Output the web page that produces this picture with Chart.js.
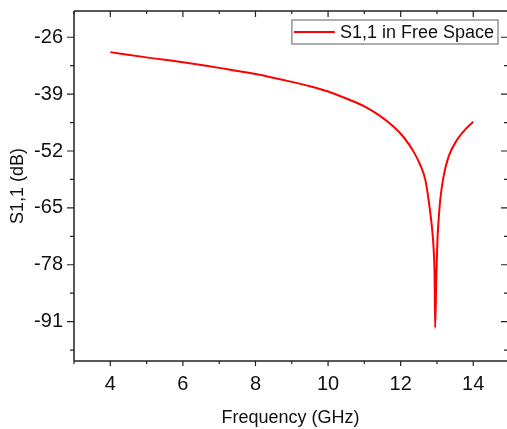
<!DOCTYPE html>
<html>
<head>
<meta charset="utf-8">
<script src="https://cdn.jsdelivr.net/npm/chart.js@4.4.1/dist/chart.umd.min.js"></script>
<style>
  html, body { margin: 0; padding: 0; background: #ffffff; }
  #wrap { width: 507px; height: 429px; position: relative; }
</style>
</head>
<body>
<div id="wrap"><canvas id="c" width="507" height="429"></canvas></div>
<script>
// ---- data ----
const freqGHz = [4.0, 5.0, 6.0, 7.0, 8.0, 9.0, 9.5, 10.0, 10.5, 11.0, 11.4, 11.8, 12.08, 12.36, 12.54, 12.68, 12.77, 12.86, 12.91, 12.935, 12.95, 12.985, 13.015, 13.04, 13.09, 13.18, 13.32, 13.55, 13.8, 14.0];
const s11dB   = [-29.4, -30.6, -31.7, -33.0, -34.4, -36.2, -37.2, -38.4, -40.0, -41.8, -43.8, -46.4, -48.8, -52.2, -55.2, -58.6, -63.2, -69.3, -74.6, -80.5, -92.4, -80.0, -72.0, -68.5, -63.2, -57.9, -53.3, -49.5, -46.9, -45.3];
const seriesLabel = 'S1,1 in Free Space';
const xMajorTicks = [4, 6, 8, 10, 12, 14];
const xMinorTicks = [3, 5, 7, 9, 11, 13];
const yMajorTicks = [-91, -78, -65, -52, -39, -26];
const yMinorTicks = [-97.5, -84.5, -71.5, -58.5, -45.5, -32.5];
const xTitle = 'Frequency (GHz)';
const yTitle = 'S1,1 (dB)';

const FONT = "'Liberation Sans', Arial, sans-serif";
const AXIS_COLOR = '#222222';

const framePlugin = {
  id: 'originFrame',
  afterDraw(chart) {
    const { ctx, chartArea: { left, right, top, bottom }, scales: { x, y } } = chart;
    ctx.save();
    ctx.strokeStyle = AXIS_COLOR;
    ctx.lineWidth = 1.5;
    ctx.beginPath();
    ctx.moveTo(left, top); ctx.lineTo(right, top);
    ctx.moveTo(left, top); ctx.lineTo(left, bottom);
    ctx.moveTo(left, bottom); ctx.lineTo(right, bottom);
    ctx.stroke();
    ctx.lineWidth = 1.2;
    ctx.beginPath();
    xMajorTicks.forEach(v => {
      const p = x.getPixelForValue(v);
      ctx.moveTo(p, bottom); ctx.lineTo(p, bottom + 5);
      ctx.moveTo(p, top); ctx.lineTo(p, top + 6);
    });
    xMinorTicks.forEach(v => {
      const p = x.getPixelForValue(v);
      ctx.moveTo(p, bottom); ctx.lineTo(p, bottom + 3);
      ctx.moveTo(p, top); ctx.lineTo(p, top + 3);
    });
    yMajorTicks.forEach(v => {
      const p = y.getPixelForValue(v);
      ctx.moveTo(left - 7, p); ctx.lineTo(left, p);
      ctx.moveTo(right - 6, p); ctx.lineTo(right, p);
    });
    yMinorTicks.forEach(v => {
      const p = y.getPixelForValue(v);
      ctx.moveTo(left - 4, p); ctx.lineTo(left, p);
      ctx.moveTo(right - 3, p); ctx.lineTo(right, p);
    });
    ctx.stroke();

    // legend (inside plot, top-right, framed)
    const ds = chart.data.datasets[0];
    ctx.font = '18px ' + FONT;
    const tw = ctx.measureText(ds.label).width;
    const textRight = right - 13;
    const textLeft = textRight - tw;
    const cy = top + 21;
    const sampleRight = textLeft - 5;
    const sampleLeft = sampleRight - 41;
    ctx.fillStyle = '#ffffff';
    ctx.fillRect(sampleLeft - 2, cy - 12, textRight - sampleLeft + 6, 24);
    ctx.strokeStyle = '#777777';
    ctx.lineWidth = 1.2;
    ctx.strokeRect(sampleLeft - 2, cy - 12, textRight - sampleLeft + 6, 24);
    ctx.strokeStyle = ds.borderColor;
    ctx.lineWidth = 2;
    ctx.beginPath();
    ctx.moveTo(sampleLeft, cy); ctx.lineTo(sampleRight, cy);
    ctx.stroke();
    ctx.fillStyle = '#111111';
    ctx.textBaseline = 'middle';
    ctx.textAlign = 'left';
    ctx.fillText(ds.label, textLeft, cy + 1);
    ctx.restore();
  }
};

new Chart(document.getElementById('c'), {
  type: 'line',
  data: {
    datasets: [{
      label: seriesLabel,
      data: freqGHz.map((f, i) => ({ x: f, y: s11dB[i] })),
      borderColor: '#ff0000',
      backgroundColor: '#ff0000',
      borderWidth: 2,
      pointRadius: 0,
      cubicInterpolationMode: 'monotone',
      fill: false
    }]
  },
  options: {
    responsive: false,
    animation: false,
    devicePixelRatio: 1,
    layout: { padding: { top: 11, right: 0, left: 0, bottom: 0 } },
    plugins: {
      tooltip: { enabled: false },
      legend: { display: false }
    },
    scales: {
      x: {
        type: 'linear',
        min: 3,
        max: 14.93,
        afterFit(scale) { scale.height = 68; scale.paddingRight = 0; scale.paddingLeft = 0; },
        afterBuildTicks(scale) {
          scale.ticks = [...xMinorTicks, ...xMajorTicks].sort((a, b) => a - b).map(v => ({ value: v }));
        },
        grid: { display: false, drawTicks: false },
        border: { display: false },
        ticks: {
          autoSkip: false,
          maxRotation: 0,
          color: '#111111',
          font: { family: FONT, size: 20 },
          padding: 11,
          callback(v) { return xMajorTicks.includes(v) ? String(v) : ''; }
        },
        title: {
          display: true,
          text: xTitle,
          color: '#111111',
          font: { family: FONT, size: 18 },
          padding: { top: 0, bottom: 0 }
        }
      },
      y: {
        type: 'linear',
        min: -100,
        max: -20,
        afterFit(scale) { scale.width = 74; scale.paddingTop = 0; scale.paddingBottom = 0; },
        afterBuildTicks(scale) {
          scale.ticks = [...yMinorTicks, ...yMajorTicks].sort((a, b) => a - b).map(v => ({ value: v }));
        },
        grid: { display: false, drawTicks: false },
        border: { display: false },
        ticks: {
          autoSkip: false,
          color: '#111111',
          font: { family: FONT, size: 20 },
          padding: 11,
          callback(v) { return yMajorTicks.includes(v) ? String(v) : ''; }
        },
        title: {
          display: true,
          text: yTitle,
          color: '#111111',
          font: { family: FONT, size: 18 },
          padding: { top: 7, bottom: 0 }
        }
      }
    }
  },
  plugins: [framePlugin]
});
</script>
</body>
</html>
